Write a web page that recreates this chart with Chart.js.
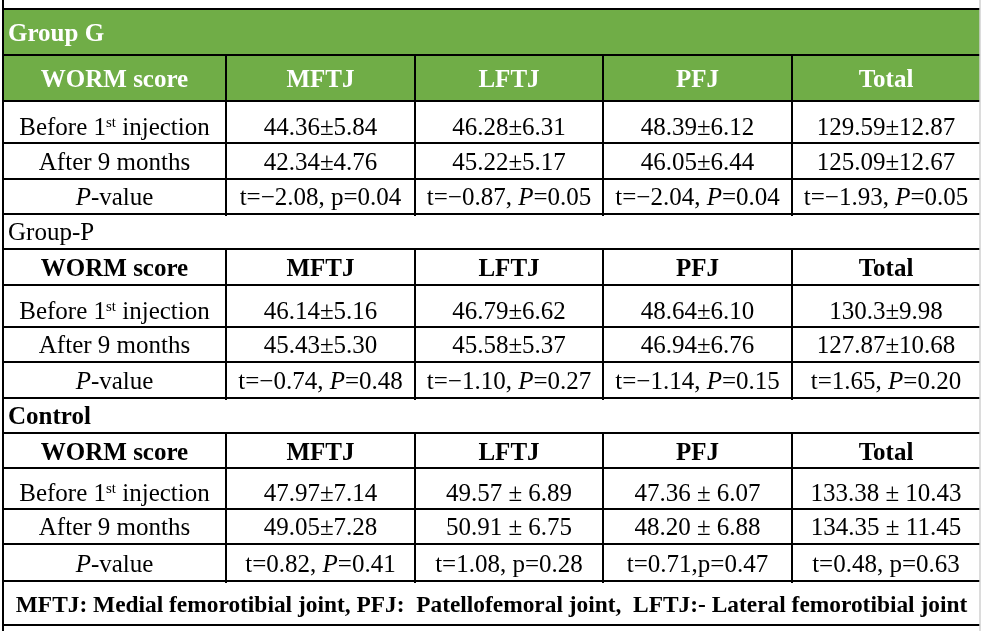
<!DOCTYPE html>
<html>
<head>
<meta charset="utf-8">
<script src="https://cdn.jsdelivr.net/npm/chart.js@4.4.1/dist/chart.umd.min.js"></script>
<style>
html, body { margin: 0; padding: 0; background: #fff; }
#wrap { width: 987px; height: 631px; }
</style>
</head>
<body>
<div id="wrap"><canvas id="tabla" width="987" height="631"></canvas></div>
<script>
// datos de la tabla (WORM score por grupo)
const grupos = ['Group G', 'Group-P', 'Control']
const columnas = ['WORM score', 'MFTJ', 'LFTJ', 'PFJ', 'Total']
// *x* = cursiva, ^{x} = superindice
const filas = ['Before 1^{st} injection', 'After 9 months', '*P*-value']

const grupoG_antes = ['44.36±5.84', '46.28±6.31', '48.39±6.12', '129.59±12.87']
const grupoG_despues = ['42.34±4.76', '45.22±5.17', '46.05±6.44', '125.09±12.67']
const grupoG_p = ['t=−2.08, p=0.04', 't=−0.87, *P*=0.05', 't=−2.04, *P*=0.04', 't=−1.93, *P*=0.05']

const grupoP_antes = ['46.14±5.16', '46.79±6.62', '48.64±6.10', '130.3±9.98']
const grupoP_despues = ['45.43±5.30', '45.58±5.37', '46.94±6.76', '127.87±10.68']
const grupoP_p = ['t=−0.74, *P*=0.48', 't=−1.10, *P*=0.27', 't=−1.14, *P*=0.15', 't=1.65, *P*=0.20']

const control_antes = ['47.97±7.14', '49.57 ± 6.89', '47.36 ± 6.07', '133.38 ± 10.43']
const control_despues = ['49.05±7.28', '50.91 ± 6.75', '48.20 ± 6.88', '134.35 ± 11.45']
const control_p = ['t=0.82, *P*=0.41', 't=1.08, p=0.28', 't=0.71,p=0.47', 't=0.48, p=0.63']

const nota = 'MFTJ: Medial femorotibial joint, PFJ:  Patellofemoral joint,  LFTJ:- Lateral femorotibial joint'

const tablas = [
    [grupoG_antes, grupoG_despues, grupoG_p],
    [grupoP_antes, grupoP_despues, grupoP_p],
    [control_antes, control_despues, control_p]
]

// layout (en unidades de las escalas)
const colX = [3, 226, 415, 603, 792, 980]
const secciones = [
    { titulo: [9, 55], filas: [55, 101, 143, 179, 214], verde: true, negrita: true },
    { titulo: [214, 249], filas: [249, 285, 327, 362, 398], verde: false, negrita: false },
    { titulo: [398, 433], filas: [433, 468, 509, 544, 581], verde: false, negrita: true }
]
const notaY = [581, 625]

const verde = '#70AD47'
const fuente = '"Liberation Serif", "Times New Roman", serif'

function partir(texto) {
    const partes = []
    const re = /\*([^*]+)\*|\^\{([^}]+)\}|([^*^]+)/g
    let m
    while ((m = re.exec(texto)) !== null) {
        if (m[1]) partes.push({ t: m[1], cursiva: true })
        else if (m[2]) partes.push({ t: m[2], sup: true })
        else partes.push({ t: m[3] })
    }
    return partes
}

function escribir(ctx, texto, x, y, opts) {
    const size = opts.size || 25
    const peso = opts.bold ? 'bold ' : ''
    const partes = partir(texto)
    const fontDe = p => (p.cursiva ? 'italic ' : '') + peso + (p.sup ? Math.round(size * 0.6) : size) + 'px ' + fuente
    let ancho = 0
    for (const p of partes) {
        ctx.font = fontDe(p)
        ancho += ctx.measureText(p.t).width
    }
    let cx = opts.align === 'left' ? x : x - ancho / 2
    ctx.fillStyle = opts.color || '#000'
    ctx.textAlign = 'left'
    ctx.textBaseline = 'alphabetic'
    for (const p of partes) {
        ctx.font = fontDe(p)
        ctx.fillText(p.t, cx, p.sup ? y - size * 0.33 : y)
        cx += ctx.measureText(p.t).width
    }
}

function linea(ctx, x1, y1, x2, y2, color, w) {
    ctx.beginPath()
    ctx.strokeStyle = color
    ctx.lineWidth = w
    ctx.moveTo(x1, y1)
    ctx.lineTo(x2, y2)
    ctx.stroke()
}

const tablaPlugin = {
    id: 'tabla',
    afterDraw(chart) {
        const ctx = chart.ctx
        const X = v => chart.scales.x.getPixelForValue(v)
        const Y = v => chart.scales.y.getPixelForValue(v)
        ctx.save()

        // fondos verdes
        secciones.forEach(sec => {
            if (!sec.verde) return
            ctx.fillStyle = verde
            ctx.fillRect(X(colX[0]), Y(sec.titulo[0]), X(colX[5]) - X(colX[0]), Y(sec.filas[1]) - Y(sec.titulo[0]))
        })

        // textos
        secciones.forEach((sec, s) => {
            const colorCab = sec.verde ? '#fff' : '#000'
            let yc = (Y(sec.titulo[0]) + Y(sec.titulo[1])) / 2
            escribir(ctx, grupos[s], X(colX[0]) + 5, yc + 8.5, { bold: sec.negrita, color: colorCab, align: 'left' })

            yc = (Y(sec.filas[0]) + Y(sec.filas[1])) / 2
            columnas.forEach((c, i) => {
                escribir(ctx, c, (X(colX[i]) + X(colX[i + 1])) / 2, yc + 9, { bold: true, color: colorCab })
            })

            const valores = tablas[s]
            for (let r = 0; r < 3; r++) {
                const base = Y(sec.filas[r + 2]) - (r === 0 ? 8 : 9)
                escribir(ctx, filas[r], (X(colX[0]) + X(colX[1])) / 2, base, {})
                valores[r].forEach((v, i) => {
                    escribir(ctx, v, (X(colX[i + 1]) + X(colX[i + 2])) / 2, base, {})
                })
            }
        })
        escribir(ctx, nota, (X(colX[0]) + X(colX[5])) / 2, (Y(notaY[0]) + Y(notaY[1])) / 2 + 8.5, { bold: true, size: 23.4 })

        // lineas
        secciones.forEach(sec => {
            [sec.titulo[0]].concat(sec.filas).forEach(v => {
                linea(ctx, X(colX[0]), Y(v), X(colX[5]), Y(v), '#000', 2)
            })
            for (let i = 1; i < 5; i++) {
                linea(ctx, X(colX[i]), Y(sec.filas[0]), X(colX[i]), Y(sec.filas[4]) + 2, '#000', 2)
            }
        })
        linea(ctx, X(colX[0]), Y(notaY[1]), X(colX[5]), Y(notaY[1]), '#000', 2)
        linea(ctx, X(colX[0]), Y(0), X(colX[0]), Y(631), '#000', 2)
        linea(ctx, X(colX[5]), Y(0), X(colX[5]), Y(631), '#d0d0d0', 1.5)

        ctx.restore()
    }
}

new Chart(document.getElementById('tabla'), {
    type: 'scatter',
    data: { datasets: [] },
    options: {
        responsive: false,
        animation: false,
        events: [],
        layout: { padding: 0 },
        plugins: { legend: { display: false }, tooltip: { enabled: false } },
        scales: {
            x: { type: 'linear', min: 0, max: 987, display: false },
            y: { type: 'linear', min: 0, max: 631, reverse: true, display: false }
        }
    },
    plugins: [tablaPlugin]
})
</script>
</body>
</html>
